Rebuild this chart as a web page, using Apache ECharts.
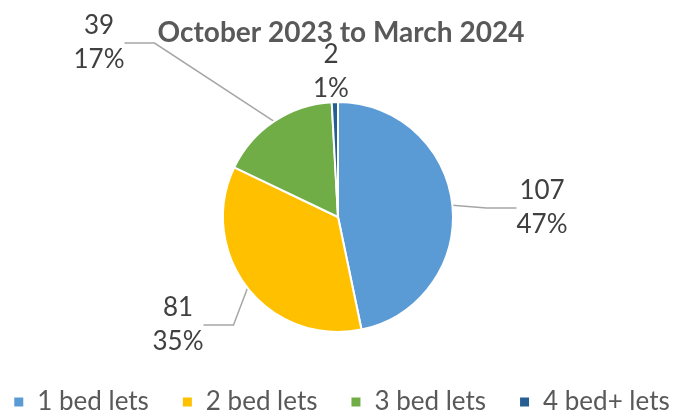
<!DOCTYPE html>
<html>
<head>
<meta charset="utf-8">
<script src="https://cdn.jsdelivr.net/npm/echarts@6/dist/echarts.min.js"></script>
<style>html,body{margin:0;padding:0;background:#fff}#c{width:682px;height:418px}</style>
</head>
<body>
<div id="c"></div>
<script>
const categories = ['1 bed lets', '2 bed lets', '3 bed lets', '4 bed+ lets'];
const values = [107, 81, 39, 2];
const colors = ['#5B9BD5', '#FFC000', '#70AD47', '#255E91'];
const titleText = 'October 2023 to March 2024';
// label anchor positions (styling)
const labelPos = [[542, 208], [178, 325], [99, 43], [331, 72]];

const chart = echarts.init(document.getElementById('c'));
chart.setOption({
  animation: false,
  color: colors,
  title: {
    text: titleText, left: 'center', top: 14,
    textStyle: { fontFamily: 'Lato', fontSize: 28, fontWeight: 'bold', color: '#595959' }
  },
  legend: {
    bottom: -2, left: 'center', icon: 'rect', itemWidth: 11, itemHeight: 11, itemGap: 32,
    textStyle: { fontFamily: 'Lato', fontSize: 26, color: '#595959', padding: [0, 0, 0, 8] },
    data: categories
  },
  series: [{
    type: 'pie',
    center: [338, 217],
    radius: 115,
    startAngle: 90,
    clockwise: true,
    percentPrecision: 0,
    itemStyle: { borderColor: '#fff', borderWidth: 2 },
    label: {
      show: true, formatter: '{c}\n{d}%',
      fontFamily: 'Lato', fontSize: 26, lineHeight: 34, color: '#404040', align: 'center'
    },
    labelLine: { show: true, lineStyle: { color: '#A6A6A6', width: 1.5 } },
    labelLayout: function (p) {
      const pos = labelPos[p.dataIndex];
      return { x: pos[0], y: pos[1], align: 'center', verticalAlign: 'middle' };
    },
    data: categories.map((n, i) => ({ name: n, value: values[i] }))
  }]
});
</script>
</body>
</html>
